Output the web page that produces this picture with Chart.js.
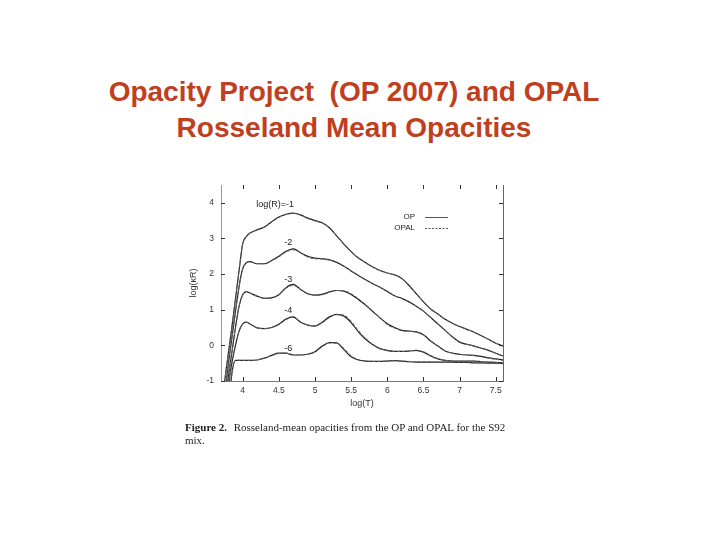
<!DOCTYPE html>
<html>
<head>
<meta charset="utf-8">
<script src="https://cdn.jsdelivr.net/npm/chart.js@4.4.0/dist/chart.umd.min.js"></script>
<style>
  body { margin: 0; background: #fff; }
  #wrap { position: relative; width: 720px; height: 540px; overflow: hidden; }
  #title {
    position: absolute; left: 0; top: 74px; width: 708px; text-align: center;
    font-family: "Liberation Sans", Arial, sans-serif; font-weight: bold; font-size: 28px;
    line-height: 36px; color: #bf4020; white-space: pre;
  }
  #caption {
    position: absolute; left: 185px; top: 421px; width: 360px;
    font-family: "Liberation Serif", "DejaVu Serif", serif; font-size: 11px; line-height: 13px; color: #222;
  }
  #caption b { margin-right: 4px; }
  canvas { position: absolute; left: 0; top: 0; }
</style>
</head>
<body>
<div id="wrap">
  <div id="title">Opacity Project  (OP 2007) and OPAL
Rosseland Mean Opacities</div>
  <canvas id="opacityChart" width="720" height="540"></canvas>
  <div id="caption"><b>Figure 2.</b> Rosseland-mean opacities from the OP and OPAL for the S92<br>mix.</div>
</div>
<script>
// log(T) grid shared by all curves
const logT = [3.75, 3.80, 3.85, 3.90, 3.95, 4.00, 4.05, 4.10, 4.20, 4.30, 4.40, 4.50, 4.60, 4.70, 4.80,
  4.90, 5.00, 5.10, 5.20, 5.30, 5.40, 5.50, 5.60, 5.70, 5.80, 5.90, 6.00, 6.10, 6.20, 6.30, 6.40,
  6.50, 6.60, 6.70, 6.80, 6.90, 7.00, 7.10, 7.20, 7.30, 7.40, 7.50, 7.60];

// OP curves, log(kappa_R) for log(R) = -1, -2, -3, -4, -6
const opR1 = [-1.0, -0.25, 0.5, 1.3, 2.1, 2.85, 3.05, 3.15, 3.24, 3.32, 3.47, 3.6, 3.68, 3.71, 3.66,
  3.57, 3.5, 3.44, 3.3, 3.07, 2.84, 2.63, 2.45, 2.32, 2.2, 2.1, 2.03, 1.98, 1.88, 1.68, 1.45,
  1.22, 1.02, 0.88, 0.73, 0.62, 0.53, 0.45, 0.37, 0.27, 0.17, 0.06, -0.02];
const opR2 = [-1.4, -0.55, 0.2, 0.95, 1.65, 2.15, 2.32, 2.35, 2.29, 2.29, 2.38, 2.5, 2.64, 2.71, 2.6,
  2.5, 2.45, 2.43, 2.4, 2.33, 2.22, 2.09, 1.96, 1.84, 1.73, 1.63, 1.51, 1.39, 1.32, 1.22, 1.1,
  0.96, 0.78, 0.6, 0.42, 0.24, 0.09, 0.03, -0.02, -0.08, -0.14, -0.22, -0.3];
const opR3 = [-1.8, -0.9, -0.2, 0.5, 1.1, 1.42, 1.51, 1.47, 1.38, 1.32, 1.33, 1.42, 1.62, 1.71, 1.57,
  1.45, 1.41, 1.43, 1.5, 1.54, 1.52, 1.43, 1.29, 1.13, 0.95, 0.77, 0.61, 0.5, 0.42, 0.4, 0.38,
  0.3, 0.12, -0.02, -0.16, -0.22, -0.25, -0.27, -0.28, -0.31, -0.35, -0.38, -0.41];
const opR4 = [-2.2, -1.2, -0.5, 0.0, 0.4, 0.6, 0.65, 0.6, 0.49, 0.47, 0.5, 0.59, 0.74, 0.8, 0.65,
  0.57, 0.54, 0.65, 0.8, 0.87, 0.82, 0.64, 0.38, 0.17, 0.02, -0.09, -0.14, -0.17, -0.17, -0.16, -0.14,
  -0.19, -0.3, -0.38, -0.42, -0.44, -0.44, -0.44, -0.44, -0.46, -0.47, -0.48, -0.49];
const opR6 = [-3.0, -1.9, -0.8, -0.42, -0.42, -0.42, -0.42, -0.42, -0.41, -0.36, -0.28, -0.22, -0.22, -0.27, -0.27,
  -0.25, -0.18, -0.02, 0.08, 0.07, -0.12, -0.32, -0.41, -0.44, -0.45, -0.45, -0.44, -0.43, -0.44, -0.46, -0.47,
  -0.47, -0.47, -0.47, -0.47, -0.47, -0.48, -0.48, -0.49, -0.49, -0.5, -0.5, -0.51];

// OPAL curves (dashed), almost on top of OP
const opalR1 = [-1.0, -0.25, 0.5, 1.3, 2.1, 2.85, 3.05, 3.15, 3.24, 3.32, 3.46, 3.59, 3.67, 3.7, 3.66,
  3.56, 3.49, 3.43, 3.29, 3.07, 2.84, 2.63, 2.45, 2.32, 2.2, 2.1, 2.03, 1.97, 1.87, 1.68, 1.45,
  1.22, 1.02, 0.88, 0.73, 0.62, 0.53, 0.45, 0.37, 0.27, 0.17, 0.06, -0.02];
const opalR2 = [-1.4, -0.55, 0.2, 0.95, 1.65, 2.15, 2.32, 2.35, 2.29, 2.29, 2.37, 2.48, 2.62, 2.68, 2.6,
  2.47, 2.43, 2.42, 2.39, 2.33, 2.22, 2.09, 1.96, 1.84, 1.73, 1.63, 1.5, 1.39, 1.32, 1.22, 1.1,
  0.96, 0.78, 0.6, 0.42, 0.24, 0.09, 0.03, -0.02, -0.08, -0.14, -0.22, -0.3];
const opalR3 = [-1.8, -0.9, -0.2, 0.5, 1.1, 1.42, 1.51, 1.47, 1.38, 1.32, 1.33, 1.41, 1.6, 1.68, 1.57,
  1.44, 1.4, 1.42, 1.49, 1.54, 1.53, 1.45, 1.31, 1.15, 0.96, 0.77, 0.58, 0.48, 0.41, 0.39, 0.37,
  0.3, 0.12, -0.02, -0.16, -0.22, -0.25, -0.27, -0.29, -0.32, -0.36, -0.39, -0.42];
const opalR4 = [-2.2, -1.2, -0.5, 0.0, 0.4, 0.6, 0.65, 0.6, 0.49, 0.47, 0.5, 0.58, 0.72, 0.79, 0.66,
  0.57, 0.55, 0.63, 0.78, 0.86, 0.85, 0.68, 0.42, 0.2, 0.03, -0.09, -0.15, -0.17, -0.17, -0.16, -0.15,
  -0.18, -0.28, -0.37, -0.42, -0.44, -0.45, -0.45, -0.45, -0.46, -0.47, -0.48, -0.49];
const opalR6 = [-3.0, -1.9, -0.8, -0.42, -0.42, -0.42, -0.42, -0.42, -0.41, -0.36, -0.29, -0.23, -0.22, -0.26, -0.27,
  -0.25, -0.19, -0.04, 0.06, 0.06, -0.08, -0.29, -0.4, -0.44, -0.45, -0.45, -0.44, -0.43, -0.44, -0.45, -0.46,
  -0.46, -0.46, -0.47, -0.47, -0.47, -0.47, -0.47, -0.48, -0.49, -0.5, -0.5, -0.5];

const curveLabels = ['log(R)=-1', '-2', '-3', '-4', '-6'];
const xTicks = [4, 4.5, 5, 5.5, 6, 6.5, 7, 7.5];
const yTicks = [-1, 0, 1, 2, 3, 4];
const seriesNames = ['OP', 'OPAL'];

Chart.defaults.font.family = '"Liberation Sans", Arial, sans-serif';
Chart.defaults.font.size = 9;
Chart.defaults.color = '#333';

function toPoints(ys) {
  return ys.map((y, i) => ({ x: logT[i], y: y }));
}

const opSets = [opR1, opR2, opR3, opR4, opR6];
const opalSets = [opalR1, opalR2, opalR3, opalR4, opalR6];

const datasets = [];
opalSets.forEach((s, i) => datasets.push({
  label: 'OPAL ' + curveLabels[i], data: toPoints(s),
  borderColor: '#666', borderWidth: 1, borderDash: [3, 2],
  pointRadius: 0, cubicInterpolationMode: 'monotone'
}));
opSets.forEach((s, i) => datasets.push({
  label: 'OP ' + curveLabels[i], data: toPoints(s),
  borderColor: '#1e1e1e', borderWidth: 1.2,
  pointRadius: 0, cubicInterpolationMode: 'monotone'
}));

// frame, inward ticks, curve labels and legend like the gnuplot figure
const framePlugin = {
  id: 'frame',
  afterDraw(chart) {
    const ctx = chart.ctx;
    const a = chart.chartArea;
    const xs = chart.scales.x, ys = chart.scales.y;
    ctx.save();
    ctx.strokeStyle = '#666';
    ctx.lineWidth = 1;
    ctx.beginPath();
    ctx.moveTo(Math.round(a.right) + 0.5, a.top);
    ctx.lineTo(Math.round(a.right) + 0.5, a.bottom);
    ctx.stroke();

    ctx.strokeStyle = '#333';
    ctx.beginPath();
    xTicks.forEach(v => {
      const px = Math.round(xs.getPixelForValue(v)) + 0.5;
      ctx.moveTo(px, a.top); ctx.lineTo(px, a.top + 4);
      ctx.moveTo(px, a.bottom); ctx.lineTo(px, a.bottom - 4);
    });
    yTicks.forEach(v => {
      const py = Math.round(ys.getPixelForValue(v)) + 0.5;
      ctx.moveTo(a.left, py); ctx.lineTo(a.left + 4, py);
      ctx.moveTo(a.right, py); ctx.lineTo(a.right - 4, py);
    });
    ctx.stroke();

    // curve labels
    ctx.fillStyle = '#222';
    ctx.font = '9px "Liberation Sans", Arial, sans-serif';
    ctx.textAlign = 'center';
    ctx.textBaseline = 'middle';
    ctx.fillText(curveLabels[0], xs.getPixelForValue(4.45), ys.getPixelForValue(3.94));
    ctx.fillText(curveLabels[1], xs.getPixelForValue(4.63), ys.getPixelForValue(2.89));
    ctx.fillText(curveLabels[2], xs.getPixelForValue(4.63), ys.getPixelForValue(1.86));
    ctx.fillText(curveLabels[3], xs.getPixelForValue(4.63), ys.getPixelForValue(0.98));
    ctx.fillText(curveLabels[4], xs.getPixelForValue(4.63), ys.getPixelForValue(-0.09));

    // legend: text then line sample
    ctx.textAlign = 'right';
    ctx.font = '8px "Liberation Sans", Arial, sans-serif';
    const lx = 415, ly = 217;
    ctx.fillText(seriesNames[0], lx, ly);
    ctx.fillText(seriesNames[1], lx, ly + 11);
    ctx.strokeStyle = '#555';
    ctx.beginPath();
    ctx.moveTo(425, ly + 0.5); ctx.lineTo(448, ly + 0.5);
    ctx.stroke();
    ctx.setLineDash([2, 1.5]);
    ctx.beginPath();
    ctx.moveTo(425, ly + 11.5); ctx.lineTo(448, ly + 11.5);
    ctx.stroke();
    ctx.restore();
  }
};

new Chart(document.getElementById('opacityChart').getContext('2d'), {
  type: 'line',
  data: { datasets: datasets },
  options: {
    responsive: false,
    animation: false,
    layout: { padding: { left: 187, right: 217, top: 185, bottom: 129 } },
    plugins: { legend: { display: false }, tooltip: { enabled: false } },
    scales: {
      x: {
        type: 'linear', min: 3.7, max: 7.6,
        afterBuildTicks: s => { s.ticks = xTicks.map(v => ({ value: v })); },
        afterFit: s => { s.height = 30; },
        ticks: { padding: 5, callback: v => String(v), font: { size: 8.5 } },
        grid: { drawOnChartArea: false, drawTicks: false },
        border: { color: '#777' },
        title: { display: true, text: 'log(T)', font: { size: 9 }, padding: { top: 2, bottom: 2 } }
      },
      y: {
        type: 'linear', min: -1, max: 4.5,
        afterBuildTicks: s => { s.ticks = yTicks.map(v => ({ value: v })); },
        afterFit: s => { s.width = 34; },
        ticks: { padding: 7, callback: v => String(v), font: { size: 8.5 } },
        grid: { drawOnChartArea: false, drawTicks: false },
        border: { color: '#999' },
        title: { display: true, text: 'log(κR)', font: { size: 9 }, padding: { top: 1, bottom: 1 } }
      }
    }
  },
  plugins: [framePlugin]
});
</script>
</body>
</html>
